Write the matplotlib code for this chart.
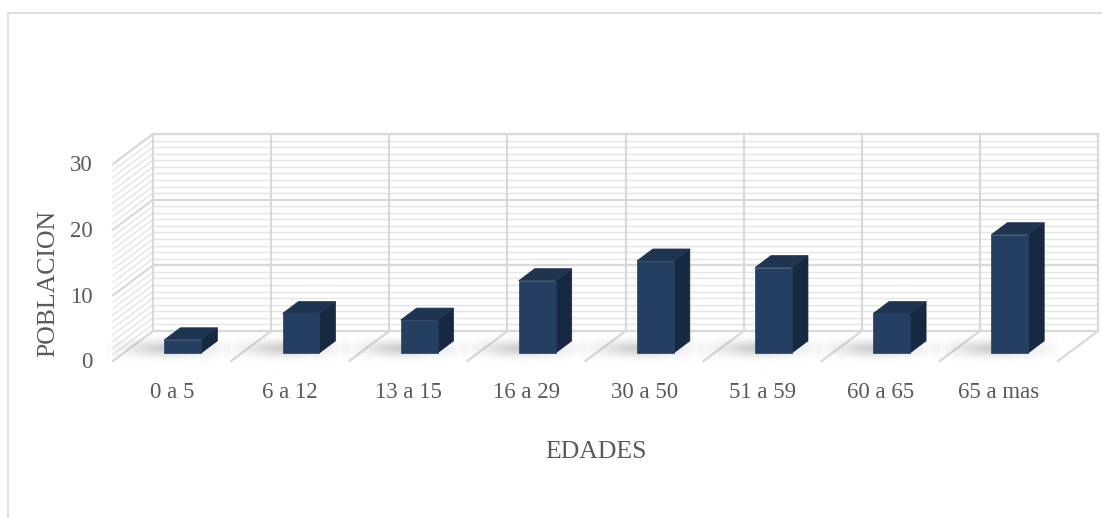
import numpy as np
import matplotlib
matplotlib.use("Agg")
import matplotlib.pyplot as plt
from matplotlib.patches import Polygon
from matplotlib.lines import Line2D

# age groups and population counts
categorias = ["0 a 5", "6 a 12", "13 a 15", "16 a 29", "30 a 50", "51 a 59", "60 a 65", "65 a mas"]
poblacion = [2, 6, 5, 11, 14, 13, 6, 18]
y_ticks = [0, 10, 20, 30]
y_max = 30

plt.rcParams["font.family"] = ["Liberation Serif", "DejaVu Serif"]
TXT = "#595959"
GRID_MAJ = "#D9D9D9"
GRID_MIN = "#E5E5E5"
C_FRONT = "#243F62"
C_TOP = "#1E3451"
C_SIDE = "#172940"

W, H = 1102, 518
# pixel layout of the back wall: 8 columns, 30 units high
PX_CAT = 118.125
PX_VAL = 6.567
WALL_X0, WALL_Y0 = 153, 331
DX = -40 / PX_CAT      # oblique depth offset (front relative to back)
DY = -30 / PX_VAL
BAR_W = 0.313
Z_FRONT, Z_BACK = 0.27, 0.67


def proj(x, y, z):
    """z = 0 is the front of the floor, z = 1 the back wall."""
    return x + DX * (1 - z), y + DY * (1 - z)


fig = plt.figure(figsize=(W / 100, H / 100), dpi=100)
ax = fig.add_axes([0, 0, 1, 1])
ax.set_axis_off()
xlim = (-WALL_X0 / PX_CAT, (W - WALL_X0) / PX_CAT)
ylim = (-(H - WALL_Y0) / PX_VAL, WALL_Y0 / PX_VAL)

n = len(categorias)

# back wall minor + major gridlines
for v in range(0, y_max + 1):
    major = v % 10 == 0
    ax.plot([0, n], [v, v], color=GRID_MAJ if major else GRID_MIN,
            lw=1.6 if major else 1.0, zorder=2 if major else 1, solid_capstyle="butt")
for i in range(n + 1):
    ax.plot([i, i], [0, y_max], color=GRID_MAJ, lw=1.6, zorder=2)

# left side wall
for v in range(0, y_max + 1):
    major = v % 10 == 0
    xa, ya = proj(0, v, 1)
    xb, yb = proj(0, v, 0)
    ax.plot([xa, xb], [ya, yb], color=GRID_MAJ if major else GRID_MIN,
            lw=1.6 if major else 1.0, zorder=2 if major else 1)

# floor dividers
for i in range(1, n + 1):
    xa, ya = proj(i, 0, 1)
    xb, yb = proj(i, 0, 0)
    ax.plot([xa, xb], [ya, yb], color=GRID_MAJ, lw=1.6, zorder=2)

# soft shadows under the columns
gx = np.linspace(-1, 1, 200)
gy = np.linspace(-1, 1, 60)
GX, GY = np.meshgrid(gx, gy)
blob = np.exp(-(GX ** 2) * 2.5 - (GY ** 2) * 4.0)
shadow = np.zeros(blob.shape + (4,))
shadow[..., :3] = 0.5
shadow[..., 3] = 0.38 * blob
for i, v in enumerate(poblacion):
    cx, cy = proj(i + 0.5 - 0.1, 0, (Z_FRONT + Z_BACK) / 2 - 0.05)
    ax.imshow(shadow, extent=(cx - 0.6, cx + 0.45, cy - 2.3, cy + 2.3),
              aspect="auto", zorder=3, interpolation="bilinear")

# 3D columns
for i, v in enumerate(poblacion):
    x0, x1 = i + 0.5 - BAR_W / 2, i + 0.5 + BAR_W / 2
    front = [proj(x0, 0, Z_FRONT), proj(x1, 0, Z_FRONT), proj(x1, v, Z_FRONT), proj(x0, v, Z_FRONT)]
    top = [proj(x0, v, Z_FRONT), proj(x1, v, Z_FRONT), proj(x1, v, Z_BACK), proj(x0, v, Z_BACK)]
    side = [proj(x1, 0, Z_FRONT), proj(x1, 0, Z_BACK), proj(x1, v, Z_BACK), proj(x1, v, Z_FRONT)]
    for pts, col in ((side, C_SIDE), (top, C_TOP), (front, C_FRONT)):
        ax.add_patch(Polygon(pts, closed=True, facecolor=col, edgecolor=col,
                             lw=0.5, zorder=5))

# value axis labels along the front edge of the side wall
for t in y_ticks:
    fx, fy = proj(0, t, 0)
    ax.text(fx - 20 / PX_CAT, fy - 2 / PX_VAL, str(t), ha="right", va="center",
            fontsize=16.5, color=TXT)

# category labels under the floor
for i, c in enumerate(categorias):
    fx, fy = proj(i + 0.5, 0, 0)
    ax.text(fx, fy - 32 / PX_VAL, c, ha="center", va="center",
            fontsize=16.5, color=TXT)

ax.set_xlim(*xlim)
ax.set_ylim(*ylim)

fig.text(596 / W, 1 - 452 / H, "EDADES", ha="center", va="center",
         fontsize=18.5, color=TXT)
fig.text(48 / W, 1 - 283 / H, "POBLACION", ha="center", va="center",
         rotation=90, fontsize=18.5, color=TXT)

# chart area border (left and top edges)
fig.add_artist(Line2D([8 / W, 8 / W], [0, 1 - 13 / H], transform=fig.transFigure,
                      color=GRID_MAJ, lw=1.2))
fig.add_artist(Line2D([8 / W, 1], [1 - 13 / H, 1 - 13 / H], transform=fig.transFigure,
                      color=GRID_MAJ, lw=1.2))

fig.savefig("out.png", dpi=100, facecolor="white")
